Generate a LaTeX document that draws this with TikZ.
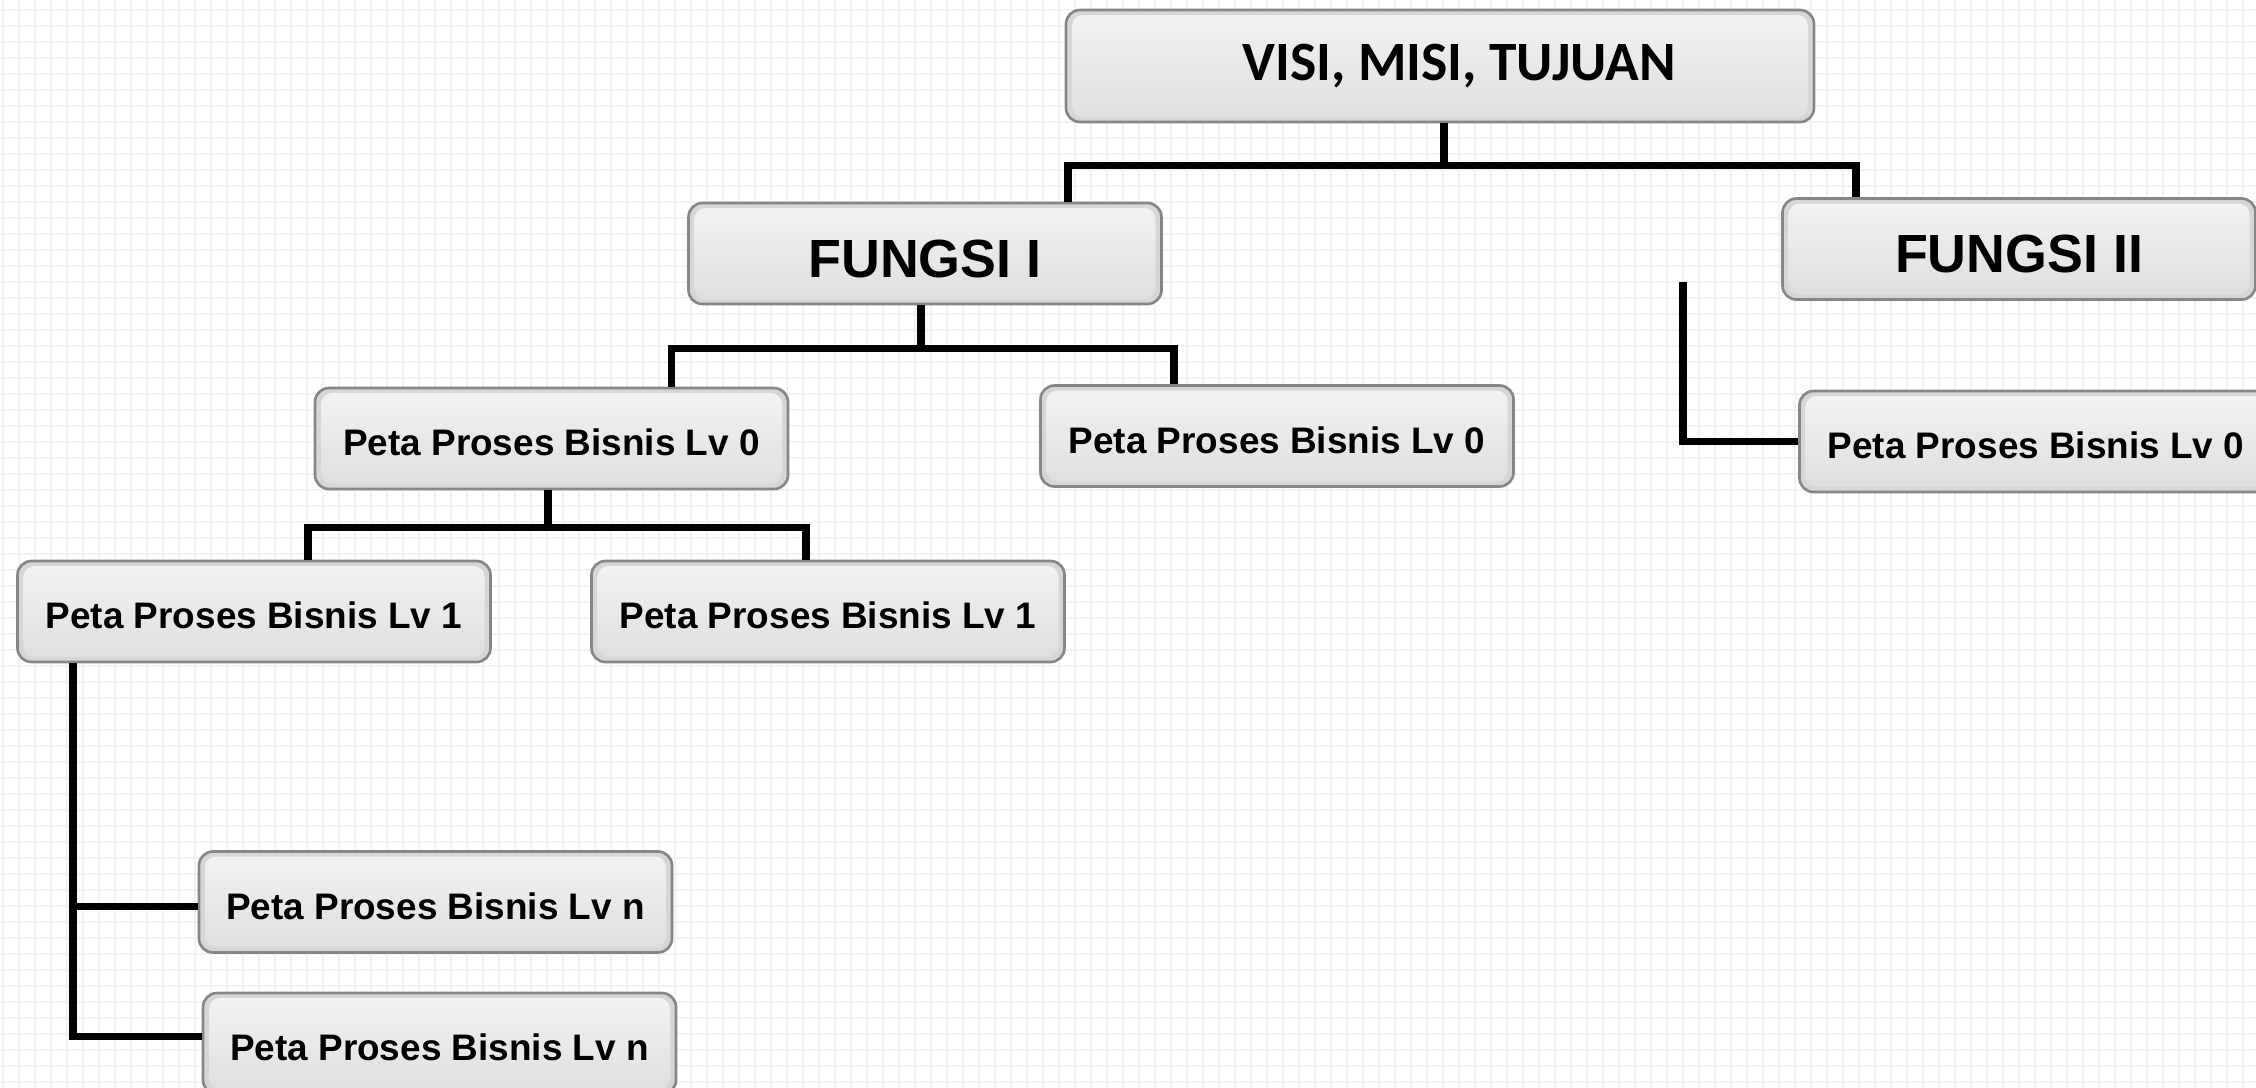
\documentclass[tikz,border=0pt]{standalone}
\usepackage{fontspec}
\setmainfont{Liberation Sans}
\newfontfamily\calib{Carlito}
\definecolor{gridc}{RGB}{241,241,248}
\definecolor{boxedge}{RGB}{134,134,134}
\definecolor{boxband}{RGB}{214,214,214}
\definecolor{boxtop}{RGB}{243,243,243}
\definecolor{boxbot}{RGB}{222,222,222}
\tikzset{
  box/.style={rectangle, rounded corners=0.14cm, draw=boxedge, line width=0.75pt,
    fill=boxband, minimum width=4.73cm, minimum height=1.01cm, inner sep=0pt,
    font=\fontsize{10.5}{12}\selectfont\bfseries, text height=10pt, text depth=0.2pt,
    path picture={\shade[top color=boxtop, bottom color=boxbot, rounded corners=0.11cm]
      ([shift={(0.06,-0.05)}]path picture bounding box.north west) rectangle
      ([shift={(-0.06,0.05)}]path picture bounding box.south east);}},
  bigbox/.style={box, font=\fontsize{15.3}{18}\selectfont\bfseries, text height=13.6pt, text depth=0.2pt},
  conn/.style={line width=2.0pt, black, line join=miter},
}
\begin{document}
\begin{tikzpicture}
\useasboundingbox (0,0) rectangle (22.56,-10.87);
\clip (0,0) rectangle (22.56,-10.87);
\fill[white] (0,0) rectangle (22.56,-10.87);
\begin{scope}[shift={(0.03,-0.10)}]
  \draw[gridc, line width=0.55pt, step=0.16] (-0.32,-11.2) grid (22.7,0.32);
\end{scope}

% nodes
\node[box, minimum width=7.48cm, minimum height=1.12cm, text height=, text depth=,
      font=\calib\fontsize{15.8}{18}\selectfont\bfseries] (visi) at (14.40,-0.66) {\hspace*{0.38cm}VISI, MISI, TUJUAN};
\node[bigbox] (f1) at (9.25,-2.535) {FUNGSI I};
\node[bigbox] (f2) at (20.19,-2.49) {FUNGSI II};
\node[box] (l0a) at (5.515,-4.385) {Peta Proses Bisnis Lv 0};
\node[box] (l0b) at (12.77,-4.36) {Peta Proses Bisnis Lv 0};
\node[box] (l0c) at (20.36,-4.415) {Peta Proses Bisnis Lv 0};
\node[box] (l1a) at (2.54,-6.115) {Peta Proses Bisnis Lv 1};
\node[box] (l1b) at (8.28,-6.115) {Peta Proses Bisnis Lv 1};
\node[box] (lna) at (4.355,-9.02) {Peta Proses Bisnis Lv n};
\node[box] (lnb) at (4.395,-10.435) {Peta Proses Bisnis Lv n};
\coordinate (f2tail) at (16.83,-2.82);

% connectors
\draw[conn] ([xshift=0.04cm]visi.south) -- ++(0,-0.42) coordinate (j1);
\draw[conn] ([xshift=1.43cm]f1.north) |- (j1) -| ([xshift=-1.63cm]f2.north);
\draw[conn] ([xshift=-0.04cm]f1.south) -- ++(0,-0.43) coordinate (j2);
\draw[conn] ([xshift=1.20cm]l0a.north) |- (j2) -| ([xshift=-1.03cm]l0b.north);
\draw[conn] (f2tail) |- (l0c.west);
\draw[conn] ([xshift=-0.035cm]l0a.south) -- ++(0,-0.37) coordinate (j3);
\draw[conn] ([xshift=0.54cm]l1a.north) |- (j3) -| ([xshift=-0.22cm]l1b.north);
\draw[conn] ([xshift=-1.81cm]l1a.south) |- ([yshift=-0.04cm]lna.west);
\draw[conn] ([xshift=-1.81cm]l1a.south) |- ([yshift=0.07cm]lnb.west);
\end{tikzpicture}
\end{document}
